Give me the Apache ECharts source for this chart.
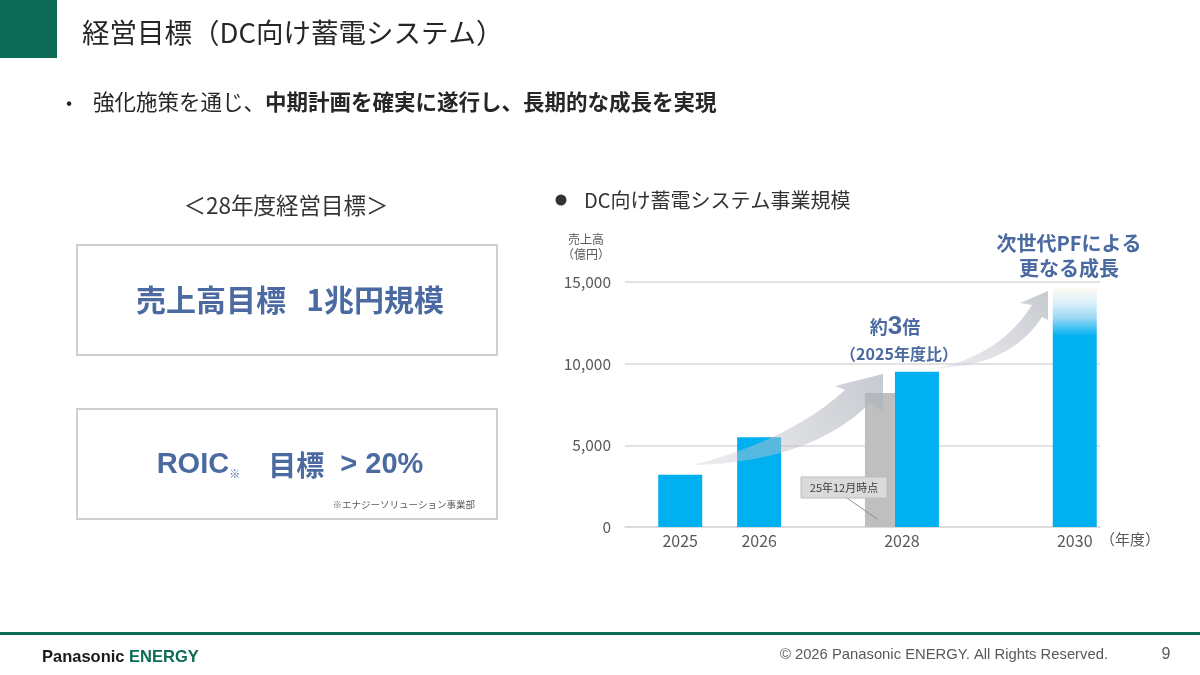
<!DOCTYPE html>
<html>
<head>
<meta charset="utf-8">
<script src="https://cdn.jsdelivr.net/npm/echarts@6/dist/echarts.min.js"></script>
<style>
html, body { margin: 0; padding: 0; background: #fff; }
#main { width: 1200px; height: 675px; }
</style>
</head>
<body>
<div id="main"></div>
<script>
// chart values
var years = [2025, 2026, 2028, 2030];
var sales = [3200, 5500, 9500, 14600];
var planYears = [2028];          // 25年12月時点の計画
var planSales = [8200];
var yTicks = [0, 5000, 10000, 15000];
var fadeYear = 2030;

var FONT = '"Noto Sans CJK JP", "Noto Sans", sans-serif';
var LATIN = '"Liberation Sans", Arial, sans-serif';
var GREEN = '#0b6b55';
var NAVY = '#4b6aa1';
var BLUE = '#00b0f0';
var GREY_BAR = '#bfbfbf';
var BAR_W = 44;
var PLAN_W = 30;

function salesBar(params, api) {
    var year = api.value(0);
    var top = api.coord([year, api.value(1)]);
    var base = api.coord([year, 0]);
    var fill = api.visual('color');
    if (year === fadeYear) {
        fill = new echarts.graphic.LinearGradient(0, 0, 0, 1, [
            { offset: 0, color: '#fbf8f0' },
            { offset: 0.06, color: '#dcf1fa' },
            { offset: 0.12, color: '#9fdaf4' },
            { offset: 0.2, color: BLUE },
            { offset: 1, color: BLUE }
        ]);
    }
    return {
        type: 'rect',
        shape: { x: top[0] - BAR_W / 2, y: top[1], width: BAR_W, height: base[1] - top[1] },
        style: { fill: fill }
    };
}

function planBar(params, api) {
    var year = api.value(0);
    var top = api.coord([year, api.value(1)]);
    var base = api.coord([year, 0]);
    // sits just left of the sales bar of the same year
    return {
        type: 'rect',
        shape: { x: top[0] - BAR_W / 2 - PLAN_W, y: top[1], width: PLAN_W, height: base[1] - top[1] },
        style: { fill: api.visual('color') }
    };
}

function txt(x, y, text, size, extra) {
    var style = { text: text, fontSize: size, fontFamily: FONT, fill: '#262626', align: 'left', verticalAlign: 'middle' };
    var z = 10;
    for (var k in extra) {
        if (k === 'z') z = extra[k]; else style[k] = extra[k];
    }
    return { type: 'text', x: x, y: y, z: z, style: style };
}

// sample a quadratic curve into polygon points
function quad(p0, c, p1, n) {
    var pts = [];
    for (var i = 0; i <= n; i++) {
        var t = i / n, u = 1 - t;
        pts.push([u * u * p0[0] + 2 * u * t * c[0] + t * t * p1[0],
                  u * u * p0[1] + 2 * u * t * c[1] + t * t * p1[1]]);
    }
    return pts;
}

function arrow(tail, upCtrl, notchUp, barbL, tip, barbR, notchLow, lowCtrl) {
    var pts = quad(tail, upCtrl, notchUp, 24);
    pts.push(barbL, tip, barbR);
    pts = pts.concat(quad(notchLow, lowCtrl, tail, 24));
    return {
        type: 'polygon', z: 20,
        shape: { points: pts },
        style: {
            fill: new echarts.graphic.LinearGradient(0, 1, 1, 0, [
                { offset: 0, color: 'rgba(200,203,210,0.35)' },
                { offset: 1, color: 'rgba(172,176,186,0.68)' }
            ])
        }
    };
}

var graphics = [
    // header
    { type: 'rect', shape: { x: 0, y: 0, width: 57, height: 58 }, style: { fill: GREEN } },
    txt(82, 33, '経営目標（DC向け蓄電システム）', 27.5, { fill: '#262626' }),
    txt(66, 102, '•', 18, { fill: '#262626' }),
    txt(93, 102, '{n|強化施策を通じ、}{b|中期計画を確実に遂行し、長期的な成長を実現}', 21.5, {
        rich: {
            n: { fontSize: 21.5, fontFamily: FONT, fill: '#262626' },
            b: { fontSize: 21.5, fontFamily: FONT, fontWeight: 'bold', fill: '#262626' }
        }
    }),

    // left panel
    txt(286, 205, '＜28年度経営目標＞', 22.5, { align: 'center', fill: '#333333' }),
    { type: 'rect', shape: { x: 77, y: 245, width: 420, height: 110 }, style: { fill: 'none', stroke: '#d0d0d0', lineWidth: 2 } },
    txt(290, 300, '売上高目標   1兆円規模', 30, { align: 'center', fill: NAVY, fontWeight: 'bold' }),
    { type: 'rect', shape: { x: 77, y: 409, width: 420, height: 110 }, style: { fill: 'none', stroke: '#d0d0d0', lineWidth: 2 } },
    txt(290, 465, '{en|ROIC}{sm|※}{sp| }{jp|目標}{en|  > 20%}', 29, {
        align: 'center',
        rich: {
            en: { fontSize: 29, fontFamily: LATIN, fontWeight: 'bold', fill: NAVY },
            sm: { fontSize: 11, fontFamily: FONT, fill: NAVY, verticalAlign: 'bottom', padding: [12, 0, 0, 0] },
            sp: { fontSize: 10, width: 28 },
            jp: { fontSize: 28, fontFamily: FONT, fontWeight: 'bold', fill: NAVY }
        }
    }),
    txt(475, 504, '※エナジーソリューション事業部', 9.5, { align: 'right', fill: '#595959' }),

    // chart heading
    { type: 'circle', shape: { cx: 561, cy: 200, r: 5.5 }, style: { fill: '#333333' } },
    txt(584, 200, 'DC向け蓄電システム事業規模', 20, { fill: '#333333' }),

    // annotations
    txt(1069, 243, '次世代PFによる', 20, { align: 'center', fill: NAVY, fontWeight: 'bold' }),
    txt(1069, 268, '更なる成長', 20, { align: 'center', fill: NAVY, fontWeight: 'bold' }),
    txt(895, 327, '{a|約}{b|3}{a|倍}', 18, {
        align: 'center',
        rich: {
            a: { fontSize: 18, fontFamily: FONT, fontWeight: 'bold', fill: NAVY },
            b: { fontSize: 26, fontFamily: LATIN, fontWeight: 'bold', fill: NAVY }
        }
    }),
    txt(899, 354, '（2025年度比）', 16, { align: 'center', fill: NAVY, fontWeight: 'bold' }),
    arrow([693, 465], [790, 440], [845, 390], [835, 386], [883, 374], [883, 412], [870, 403], [810, 462]),
    arrow([937, 368], [1000, 355], [1032, 305], [1020, 303], [1048, 291], [1048, 320], [1042, 317], [1010, 366]),
    { type: 'line', z: 20, shape: { x1: 847, y1: 498, x2: 877, y2: 519 }, style: { stroke: '#8c8c8c', lineWidth: 1 } },
    { type: 'rect', z: 21, shape: { x: 801, y: 477, width: 86, height: 21 }, style: { fill: '#dadada', stroke: '#bcbcbc', lineWidth: 1 } },
    txt(844, 488, '25年12月時点', 11, { align: 'center', fill: '#404040', z: 22 }),

    // footer
    { type: 'rect', shape: { x: 0, y: 632, width: 1200, height: 3 }, style: { fill: GREEN } },
    txt(42, 657, '{p|Panasonic }{e|ENERGY}', 16.5, {
        rich: {
            p: { fontSize: 16.5, fontFamily: LATIN, fontWeight: 'bold', fill: '#1a1a1a' },
            e: { fontSize: 16.5, fontFamily: LATIN, fontWeight: 'bold', fill: GREEN }
        }
    }),
    txt(1108, 655, '© 2026 Panasonic ENERGY. All Rights Reserved.', 14.8, { align: 'right', fill: '#595959', fontFamily: LATIN }),
    txt(1166, 655, '9', 16, { align: 'center', fill: '#595959', fontFamily: LATIN })
];

var chart = echarts.init(document.getElementById('main'));

chart.setOption({
    animation: false,
    textStyle: { fontFamily: FONT },
    grid: { left: 625, right: 100, top: 282, bottom: 148 },
    xAxis: {
        type: 'value',
        min: 2024.3,
        max: 2030.32,
        splitLine: { show: false },
        axisTick: { show: false },
        axisLine: { lineStyle: { color: '#d9d9d9', width: 1.5 } },
        axisLabel: {
            customValues: years,
            margin: 6,
            fontSize: 16,
            color: '#595959',
            formatter: function (v) {
                return planYears.indexOf(v) >= 0 ? '{pair|' + v + '}' : String(v);
            },
            rich: {
                pair: { fontSize: 16, color: '#595959', padding: [0, PLAN_W, 0, 0] }
            }
        },
        name: '（年度）',
        nameLocation: 'end',
        nameGap: 0,
        nameTextStyle: { fontSize: 15, color: '#595959', align: 'left', verticalAlign: 'top', padding: [5, 0, 0, 0] }
    },
    yAxis: {
        type: 'value',
        min: yTicks[0],
        max: yTicks[yTicks.length - 1],
        interval: yTicks[1] - yTicks[0],
        axisLine: { show: false },
        axisTick: { show: false },
        splitLine: { lineStyle: { color: '#d9d9d9', width: 1.5 } },
        axisLabel: {
            margin: 14,
            fontSize: 15.5,
            color: '#595959',
            formatter: function (v) { return v.toLocaleString('en-US'); }
        },
        name: '売上高\n（億円）',
        nameLocation: 'end',
        nameGap: 20,
        nameTextStyle: { fontSize: 12, lineHeight: 15, color: '#595959', align: 'center', padding: [0, 78, 0, 0] }
    },
    series: [
        {
            type: 'custom',
            name: '25年12月時点',
            renderItem: planBar,
            encode: { x: 0, y: 1 },
            itemStyle: { color: GREY_BAR },
            z: 3,
            data: planYears.map(function (y, i) { return [y, planSales[i]]; })
        },
        {
            type: 'custom',
            name: '売上高',
            renderItem: salesBar,
            encode: { x: 0, y: 1 },
            itemStyle: { color: BLUE },
            z: 4,
            data: years.map(function (y, i) { return [y, sales[i]]; })
        }
    ],
    graphic: graphics
});
</script>
</body>
</html>
